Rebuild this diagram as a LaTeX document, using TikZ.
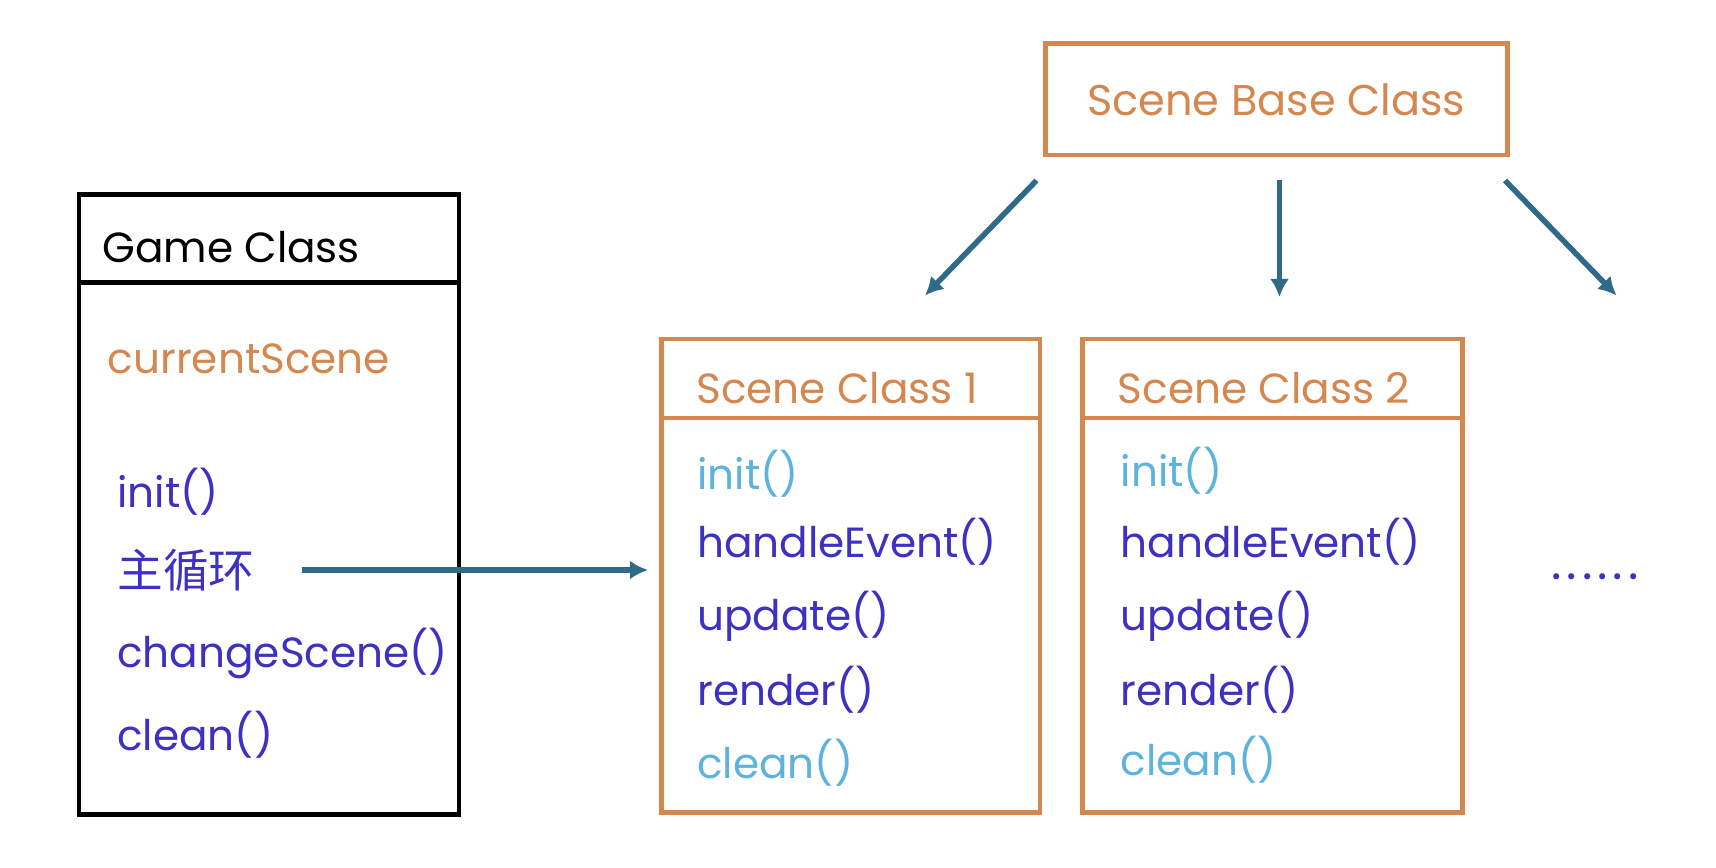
\documentclass[tikz,border=0pt]{standalone}
\usepackage{fontspec}
\setmainfont{Poppins}
\newfontfamily\cjkfont{Noto Sans CJK SC}
\usetikzlibrary{positioning,arrows.meta}

\definecolor{boxorange}{HTML}{D4874F}
\definecolor{methodblue}{HTML}{3D30C2}
\definecolor{lightblue}{HTML}{5DB3DE}
\definecolor{arrowteal}{HTML}{2F6A88}

\tikzset{
  classbox/.style={draw, line width=0.09cm, anchor=north west, inner sep=0pt},
  label/.style={anchor=west, inner sep=0pt, font=\fontsize{24}{28}\selectfont},
  flow/.style={arrowteal, line width=0.11cm, -{Latex[length=0.36cm,width=0.38cm]}}
}

\begin{document}
\begin{tikzpicture}
\useasboundingbox (0,0) rectangle (34.32,-17.36);

%% Game class
\node (game) [classbox, black, minimum width=7.6cm, minimum height=12.39cm] at (1.53,-3.85) {};
\draw [line width=0.09cm, black] ([yshift=-1.8cm]game.north west) -- ([yshift=-1.8cm]game.north east);
\node (gtitle) [label, black] at (2.04,-4.95) {Game Class};
\node (cur) [label, boxorange] at (2.15,-7.18) {currentScene};
\node (ginit) [label, methodblue] at (2.34,-9.83) {init()};
\node (loop) [label, methodblue, font=\fontsize{26}{30}\cjkfont] at (2.34,-11.40) {主循环};
\node (change) [label, methodblue] at (2.34,-13.07) {changeScene()};
\node (gclean) [label, methodblue] at (2.34,-14.69) {clean()};

%% Base class
\node (base) [classbox, boxorange, minimum width=9.24cm, minimum height=2.23cm] at (20.86,-0.83) {};
\node [boxorange, font=\fontsize{24.5}{28}\selectfont, inner sep=0pt] at (base.center) {Scene Base Class};

%% Scene class 1
\node (sc1) [classbox, boxorange, minimum width=7.57cm, minimum height=9.46cm] at (13.18,-6.74) {};
\draw [line width=0.09cm, boxorange] ([yshift=-1.62cm]sc1.north west) -- ([yshift=-1.62cm]sc1.north east);
\node [label, boxorange] at (13.92,-7.77) {Scene Class 1};
\node [label, lightblue] at (13.94,-9.48) {init()};
\node [label, methodblue] at (13.94,-10.83) {handleEvent()};
\node [label, methodblue] at (13.94,-12.32) {update()};
\node [label, methodblue] at (13.94,-13.79) {render()};
\node [label, lightblue] at (13.94,-15.26) {clean()};

%% Scene class 2
\node (sc2) [classbox, boxorange, minimum width=7.6cm, minimum height=9.46cm] at (21.60,-6.74) {};
\draw [line width=0.09cm, boxorange] ([yshift=-1.62cm]sc2.north west) -- ([yshift=-1.62cm]sc2.north east);
\node [label, boxorange] at (22.35,-7.77) {Scene Class 2};
\node [label, lightblue] at (22.41,-9.41) {init()};
\node [label, methodblue] at (22.41,-10.83) {handleEvent()};
\node [label, methodblue] at (22.41,-12.32) {update()};
\node [label, methodblue] at (22.41,-13.79) {render()};
\node [label, lightblue] at (22.41,-15.19) {clean()};

\node (more) [label, methodblue, font=\fontsize{28}{30}\selectfont] at (31.02,-11.54) {.\hspace{0.1cm}.\hspace{0.1cm}.\hspace{0.1cm}.\hspace{0.1cm}.\hspace{0.1cm}.};

%% arrows
\coordinate (b1) at (20.73,-3.61);
\coordinate (b2) at (25.59,-3.61);
\coordinate (b3) at (30.10,-3.61);
\coordinate (e3) at (32.33,-5.91);
\draw [flow] (b1) -- (18.50,-5.91);
\draw [flow] (b2) -- ([yshift=0.8cm]sc2.north -| b2);
\draw [flow] (b3) -- (e3);
\draw [flow] ([xshift=0.94cm]loop.east) -- ([xshift=-0.22cm]sc1.west |- loop.east);
\end{tikzpicture}
\end{document}
